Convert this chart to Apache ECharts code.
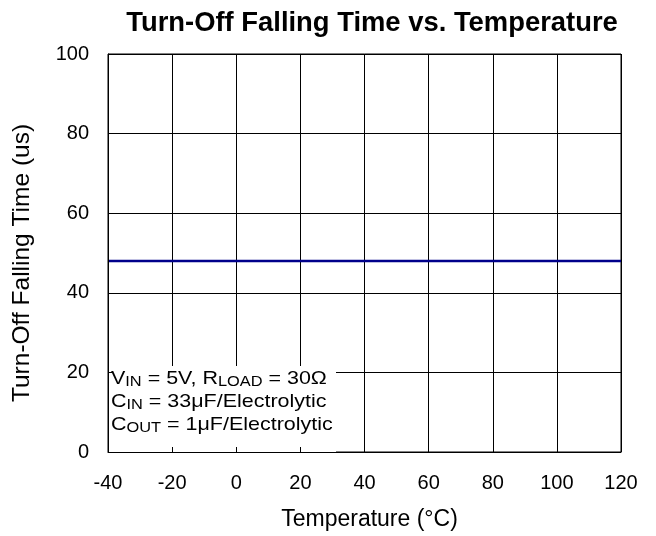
<!DOCTYPE html>
<html>
<head>
<meta charset="utf-8">
<script src="https://cdn.jsdelivr.net/npm/echarts@6/dist/echarts.min.js"></script>
<style>html,body{margin:0;padding:0;background:#fff;}#c{width:656px;height:536px;}</style>
</head>
<body>
<div id="c"></div>
<script>
var temperatures = [-40, -20, 0, 20, 40, 60, 80, 100, 120];
var fallTime = [48, 48, 48, 48, 48, 48, 48, 48, 48];
var xTicks = {min: -40, max: 120, interval: 20};
var yTicks = {min: 0, max: 100, interval: 20};

var FONT = '"Liberation Sans", Arial, sans-serif';
var chart = echarts.init(document.getElementById('c'), null, {renderer: 'canvas'});
var gridPos = {left: 108, right: 35, top: 54, bottom: 83};
var pts = temperatures.map(function (t, i) { return [t, fallTime[i]]; });

var option = {
  animation: false,
  backgroundColor: '#fff',
  title: {
    text: 'Turn-Off Falling Time vs. Temperature',
    left: 367, top: 5, textAlign: 'center',
    textStyle: {fontFamily: FONT, fontSize: 27.4, fontWeight: 'bold', color: '#000'}
  },
  grid: Object.assign({show: true, borderColor: '#000', borderWidth: 1, backgroundColor: 'transparent'}, gridPos),
  xAxis: [{
    type: 'value', min: xTicks.min, max: xTicks.max, interval: xTicks.interval,
    name: 'Temperature (°C)', nameLocation: 'middle', nameGap: 56,
    nameTextStyle: {fontFamily: FONT, fontSize: 23, color: '#000', padding: [0, 0, 0, 10]},
    axisLine: {show: false}, axisTick: {show: false},
    axisLabel: {fontFamily: FONT, fontSize: 20, color: '#000', margin: 21},
    splitLine: {show: true, lineStyle: {color: '#000', width: 1}},
    z: 0
  }, {
    type: 'value', min: xTicks.min, max: xTicks.max, interval: xTicks.interval, position: 'bottom',
    axisLine: {show: true, onZero: false, lineStyle: {color: '#000', width: 1}},
    axisTick: {show: true, inside: true, length: 5, lineStyle: {color: '#000'}},
    axisLabel: {show: false}, splitLine: {show: false}, z: 10
  }],
  yAxis: [{
    type: 'value', min: yTicks.min, max: yTicks.max, interval: yTicks.interval,
    name: 'Turn-Off Falling Time (us)', nameLocation: 'middle', nameGap: 73,
    nameTextStyle: {fontFamily: FONT, fontSize: 24.5, color: '#000', padding: [0, 20, 0, 0]},
    axisLine: {show: false}, axisTick: {show: false},
    axisLabel: {fontFamily: FONT, fontSize: 20, color: '#000', margin: 19},
    splitLine: {show: true, lineStyle: {color: '#000', width: 1}},
    z: 0
  }, {
    type: 'value', min: yTicks.min, max: yTicks.max, interval: yTicks.interval, position: 'left',
    axisLine: {show: true, onZero: false, lineStyle: {color: '#000', width: 1}},
    axisTick: {show: true, inside: true, length: 5, lineStyle: {color: '#000'}},
    axisLabel: {show: false}, splitLine: {show: false}, z: 10
  }],
  graphic: [{
    type: 'rect', z: 5,
    shape: {x: 109, y: 366, width: 227, height: 86},
    style: {fill: '#fff', stroke: null}
  }, {
    type: 'text', z: 6, left: 111, top: 367, scaleX: 1.13,
    style: {
      text: 'V{s|IN} = 5V, R{s|LOAD} = 30Ω\nC{s|IN} = 33μF/Electrolytic\nC{s|OUT} = 1μF/Electrolytic',
      fontFamily: FONT, fontSize: 19, fill: '#000', lineHeight: 23.3,
      rich: {s: {fontFamily: FONT, fontSize: 14.5, fill: '#000', verticalAlign: 'bottom', lineHeight: 23.3, padding: [0, 0, 1, 0]}}
    }
  }],
  series: [{
    type: 'line', xAxisIndex: 0, yAxisIndex: 0, data: pts,
    showSymbol: false, symbol: 'none',
    lineStyle: {color: '#00008B', width: 2.5}, z: 4
  }]
};
chart.setOption(option);
</script>
</body>
</html>
